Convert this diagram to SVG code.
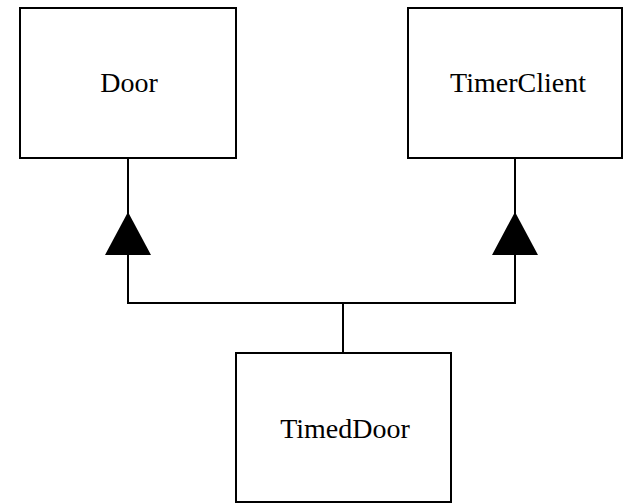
<svg xmlns="http://www.w3.org/2000/svg" width="623" height="503" viewBox="0 0 623 503">
<style>
.box{fill:#fff;stroke:#000;stroke-width:2}
.lbl{font-family:"Liberation Serif","Times New Roman",serif;font-size:28px;fill:#000;text-anchor:middle}
.con{fill:none;stroke:#000;stroke-width:2}
.tri{fill:#000;stroke:none}
</style>
<rect width="623" height="503" fill="#fff"/>
<g id="connectors">
<polyline class="con" points="128,158 128,303 515,303 515,158"/>
<line class="con" x1="343" y1="303" x2="343" y2="353"/>
<polygon class="tri" points="128,212 105,255 151,255"/>
<polygon class="tri" points="515,212 492,255 538,255"/>
</g>
<g id="door">
<rect class="box" x="20" y="8" width="216" height="150"/>
<text class="lbl" x="129" y="92">Door</text>
</g>
<g id="timerclient">
<rect class="box" x="408" y="8" width="214" height="150"/>
<text class="lbl" x="518" y="92">TimerClient</text>
</g>
<g id="timeddoor">
<rect class="box" x="236" y="353" width="215" height="149"/>
<text class="lbl" x="345" y="438">TimedDoor</text>
</g>
</svg>
